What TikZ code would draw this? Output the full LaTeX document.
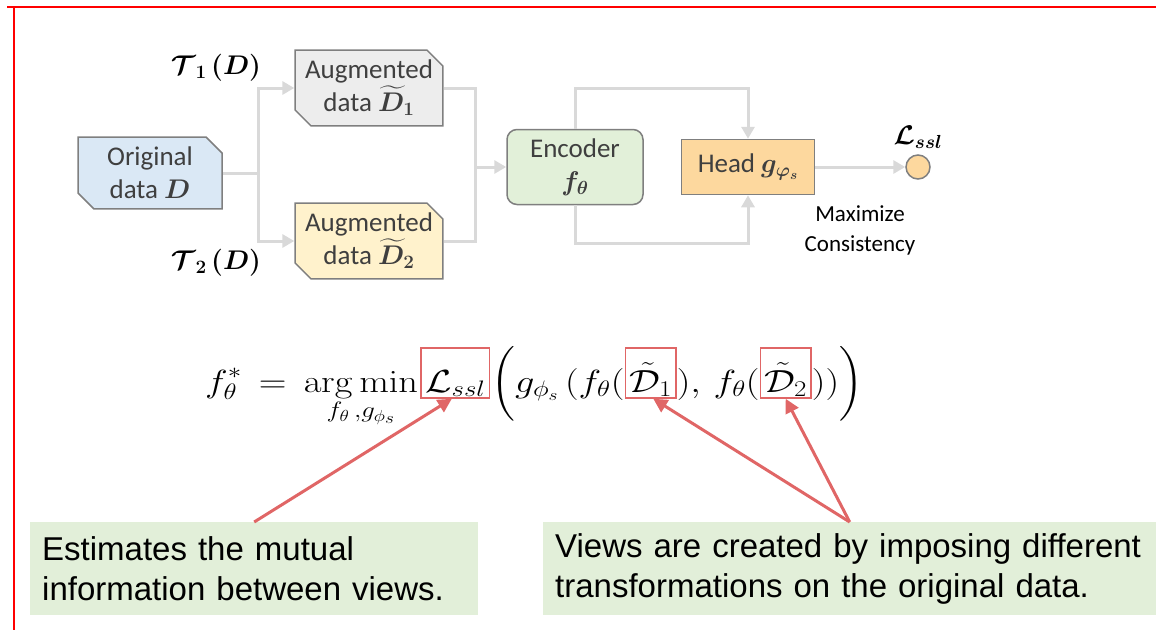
\RequirePackage{fix-cm}
\documentclass[tikz,border=0pt]{standalone}
\usepackage{amsmath}
\usepackage{bm}
\usepackage{graphicx}
\usepackage[no-math]{fontspec}
\setmainfont{Carlito}
\newfontfamily\notafont{Liberation Sans}
\usetikzlibrary{arrows.meta}
\usetikzlibrary{shapes.misc}
\usetikzlibrary{positioning}
\usetikzlibrary{calc}

\definecolor{boxline}{HTML}{7F7F7F}
\definecolor{textgray}{HTML}{3F3F3F}
\definecolor{origfill}{HTML}{DAE8F5}
\definecolor{augfill}{HTML}{EDEDED}
\definecolor{augtwofill}{HTML}{FFF2CC}
\definecolor{encfill}{HTML}{E2F0D9}
\definecolor{headfill}{HTML}{FDD89E}
\definecolor{flowgray}{HTML}{D9D9D9}
\definecolor{markred}{HTML}{E06666}
\definecolor{framered}{HTML}{FF0000}
\definecolor{notefill}{HTML}{E2EFD9}

% equacao esticada na horizontal, como na figura original
\newcommand{\esticada}[1]{\scalebox{1.2}[1]{$\displaystyle #1$}}

\tikzset{
  bloco/.style={draw=boxline, line width=1.5pt, text=textgray, align=center,
    font=\fontsize{27}{33}\selectfont, inner sep=2pt},
  chanfro/.style={bloco, chamfered rectangle,
    chamfered rectangle corners={north east,south west},
    chamfered rectangle xsep=8pt, chamfered rectangle ysep=8pt,
    minimum width=144pt, minimum height=70pt},
  fluxo/.style={draw=flowgray, line width=3pt, >={Triangle[length=12pt,width=13pt]}},
  marca/.style={draw=markred, line width=3pt, >={Triangle[length=14pt,width=14pt]}},
  eq/.style={inner sep=0pt, font=\fontsize{32}{38}\selectfont},
  caixa/.style={eq, draw=markred, line width=1.5pt, inner xsep=4pt,
    text height=44pt, text depth=6pt},
  rotulo/.style={font=\fontsize{27}{29}\selectfont},
  nota/.style={fill=notefill, anchor=north west, minimum height=93pt,
    inner xsep=12pt, align=left, font=\notafont\fontsize{33}{40}\selectfont},
}

\begin{document}
\begin{tikzpicture}[x=1pt, y=-1pt]

  %--------------------------------------------
  % Area total da figura (em pixels) e moldura vermelha
  %--------------------------------------------
  \useasboundingbox (0,0) rectangle (1156,630);
  \draw[framered, line width=2.5pt] (7,7) -- (1156,7);
  \draw[framered, line width=1.2pt] (14,7) -- (14,630);

  %--------------------------------------------
  % Blocos do diagrama
  %--------------------------------------------
  \node[chanfro, fill=origfill] (orig) at (150,173) {Original\\data $\bm{D}$};
  \node[chanfro, fill=augfill] (augum) at (369,88) {Augmented\\data $\widetilde{\bm{D}}_{\bm{1}}$};
  \node[chanfro, fill=augtwofill] (augdois) at (369,241) {Augmented\\data $\widetilde{\bm{D}}_{\bm{2}}$};
  \node[bloco, fill=encfill, rounded corners=10pt, minimum width=136pt,
    minimum height=75pt] (enc) at (575,167) {Encoder\\$\bm{f_\theta}$};
  \node[bloco, fill=headfill, minimum width=133pt, minimum height=55pt]
    (head) at (748,167) {Head $\bm{g_{\varphi_s}}$};
  \node[circle, draw=boxline, line width=1.5pt, fill=headfill, minimum size=24pt,
    inner sep=0pt] (perda) at (918,167) {};

  % Rotulos soltos
  \node[rotulo] (tum) at (216,68) {$\bm{\mathcal{T}_1\,(D)}$};
  \node[rotulo] (tdois) at (216,263) {$\bm{\mathcal{T}_2\,(D)}$};
  \node[rotulo, above=2pt of perda] (nomeperda) {$\bm{\mathcal{L}_{ssl}}$};
  \node[font=\fontsize{23}{30}\selectfont, align=center] (consist) at (860,230) {Maximize\\Consistency};

  %--------------------------------------------
  % Conexoes (setas cinza)
  %--------------------------------------------
  \coordinate (divide) at (258,173);
  \coordinate (junta) at (475,167);
  \coordinate (sobe) at (575,88);
  \coordinate (desce) at (575,243);

  \draw[fluxo] (orig.east) -- (divide);
  \draw[fluxo, ->] (divide) |- (augum.west);
  \draw[fluxo, ->] (divide) |- (augdois.west);
  \draw[fluxo] (augum.east) -| (junta);
  \draw[fluxo] (augdois.east) -| (junta);
  \draw[fluxo, ->] (junta) -- (enc.west);
  \draw[fluxo, ->] (enc.north) -- (sobe) -| (head.north);
  \draw[fluxo, ->] (enc.south) -- (desce) -| (head.south);
  \draw[fluxo, ->] (head.east) -- (perda.west);

  %--------------------------------------------
  % Equacao, montada em pedacos para marcar os termos
  %--------------------------------------------
  \node[eq, anchor=base west] (eqlhs) at (205,392)
    {\esticada{f_\theta^* \mkern3mu = \mkern3mu \operatorname*{arg\,min}_{f_\theta\,,g_{\phi_s}}}};
  \node[caixa, base right=2pt of eqlhs] (eqloss) {\esticada{\mathcal{L}_{ssl}}};
  \node[eq, base right=1pt of eqloss] (eqmeio) {\esticada{\bigg(g_{\phi_s}\,(f_\theta(}};
  \node[caixa, base right=0pt of eqmeio] (eqdum) {\esticada{\tilde{\mathcal{D}}_1}};
  \node[eq, base right=0pt of eqdum] (eqvirg) {\esticada{),\,f_\theta(}};
  \node[caixa, base right=0pt of eqvirg] (eqddois) {\esticada{\tilde{\mathcal{D}}_2}};
  \node[eq, base right=0pt of eqddois] (eqfim) {\esticada{))\bigg)}};

  %--------------------------------------------
  % Notas explicativas e setas vermelhas
  %--------------------------------------------
  \node[nota, minimum width=448pt, text width=424pt] (notaum) at (30,522)
    {Estimates the mutual\\information between views.};
  \node[nota, minimum width=613pt, text width=589pt] (notadois) at (543,522)
    {Views are created by imposing different\\transformations on the original data.};

  \draw[marca, ->] (notaum.north) -- ($(eqloss.south west)!.45!(eqloss.south east)$);
  \draw[marca, ->] (notadois.north) -- ($(eqdum.south west)!.55!(eqdum.south east)$);
  \draw[marca, ->] (notadois.north) -- ($(eqddois.south west)!.5!(eqddois.south east)$);

\end{tikzpicture}
\end{document}
